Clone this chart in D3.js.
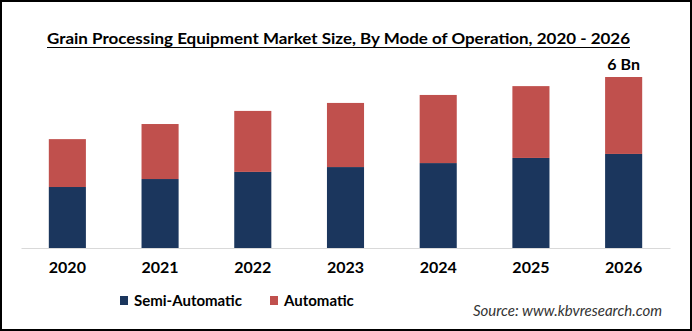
<!DOCTYPE html>
<html>
<head>
<meta charset="utf-8">
<script src="https://cdn.jsdelivr.net/npm/d3@7"></script>
<style>
  html, body { margin: 0; padding: 0; background: #fff; }
  svg { display: block; font-family: Lato, "Open Sans", sans-serif; }
</style>
</head>
<body>
<svg id="chart" width="692" height="331"></svg>
<script>
const years = ["2020", "2021", "2022", "2023", "2024", "2025", "2026"];
const semiAutomatic = [2.14, 2.42, 2.67, 2.84, 2.98, 3.16, 3.3];
const automatic = [1.68, 1.93, 2.14, 2.25, 2.39, 2.52, 2.7];
const seriesNames = ["Semi-Automatic", "Automatic"];
const seriesColors = ["#1b365d", "#c0504d"];
const lastLabel = "6 Bn";

const width = 692, height = 331;
const svg = d3.select("#chart");

// frame
svg.append("rect")
  .attr("x", 1).attr("y", 1)
  .attr("width", width - 2).attr("height", height - 2)
  .attr("fill", "#fff").attr("stroke", "#000").attr("stroke-width", 2);

// title
svg.append("text")
  .attr("x", 47).attr("y", 44)
  .attr("font-size", 16).attr("font-weight", "bold")
  .attr("fill", "#000")
  .attr("textLength", 583).attr("lengthAdjust", "spacingAndGlyphs")
  .text("Grain Processing Equipment Market Size, By Mode of Operation, 2020 - 2026");
svg.append("line")
  .attr("x1", 47).attr("x2", 630).attr("y1", 47.5).attr("y2", 47.5)
  .attr("stroke", "#000").attr("stroke-width", 1.2);

const rows = years.map((y, i) => ({ year: y, semi: semiAutomatic[i], auto: automatic[i] }));
const layers = d3.stack().keys(["semi", "auto"])(rows);

const x = d3.scaleBand().domain(years).range([21, 670]).paddingInner(0.6).paddingOuter(0.3);
const y = d3.scaleLinear().domain([0, 6]).range([248, 77]);

svg.append("g")
  .selectAll("g")
  .data(layers)
  .join("g")
  .attr("fill", (d, i) => seriesColors[i])
  .selectAll("rect")
  .data(d => d)
  .join("rect")
  .attr("x", d => x(d.data.year))
  .attr("width", x.bandwidth())
  .attr("y", d => y(d[1]))
  .attr("height", d => y(d[0]) - y(d[1]));

// axis
const axis = svg.append("g")
  .attr("transform", "translate(0,248)")
  .call(d3.axisBottom(x).tickSize(0).tickPadding(14));
axis.select(".domain").attr("stroke", "#d9d9d9").attr("stroke-width", 1.2);
axis.selectAll("text")
  .attr("font-family", "Lato, sans-serif")
  .attr("font-size", 16).attr("font-weight", "bold").attr("fill", "#000");

// value label on last bar
const last = rows[rows.length - 1];
svg.append("text")
  .attr("x", x(last.year) + x.bandwidth() / 2)
  .attr("y", y(last.semi + last.auto) - 7)
  .attr("text-anchor", "middle")
  .attr("font-size", 16).attr("font-weight", "bold").attr("fill", "#000")
  .text(lastLabel);

// legend
const legendX = [120, 270];
const legend = svg.append("g");
seriesNames.forEach((name, i) => {
  legend.append("rect")
    .attr("x", legendX[i]).attr("y", 296)
    .attr("width", 8).attr("height", 9)
    .attr("fill", seriesColors[i]);
  legend.append("text")
    .attr("x", legendX[i] + 14).attr("y", 306)
    .attr("font-size", 15).attr("font-weight", "bold").attr("fill", "#000")
    .text(name);
});

// source
svg.append("text")
  .attr("x", 662).attr("y", 316)
  .attr("text-anchor", "end")
  .attr("font-size", 15).attr("font-style", "italic").attr("fill", "#333")
  .text("Source: www.kbvresearch.com");
</script>
</body>
</html>
